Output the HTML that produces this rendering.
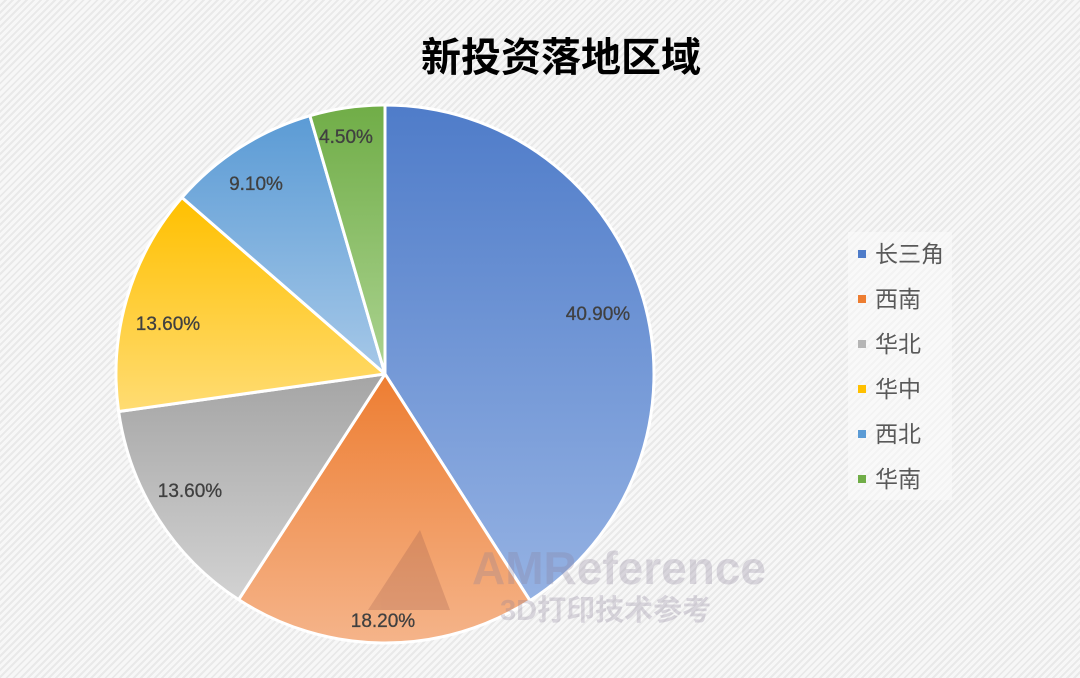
<!DOCTYPE html>
<html><head><meta charset="utf-8"><style>
html,body{margin:0;padding:0}
body{width:1080px;height:678px;overflow:hidden;background:repeating-linear-gradient(135deg,#f7f7f7 0 3px,#e9e9e9 3px 5px);font-family:"Liberation Sans","Noto Sans CJK SC",sans-serif}
</style></head><body>
<svg width="1080" height="678" viewBox="0 0 1080 678" xmlns="http://www.w3.org/2000/svg" style="position:absolute;left:0;top:0">
<defs>
<linearGradient id="g1" x1="0" y1="0" x2="0" y2="1"><stop offset="0" stop-color="#4f7cc9"/><stop offset="1" stop-color="#95b2e3"/></linearGradient>
<linearGradient id="g2" x1="0" y1="0" x2="0" y2="1"><stop offset="0" stop-color="#ed7d31"/><stop offset="1" stop-color="#f5b48a"/></linearGradient>
<linearGradient id="g3" x1="0" y1="0" x2="0" y2="1"><stop offset="0" stop-color="#a5a5a5"/><stop offset="1" stop-color="#d2d2d2"/></linearGradient>
<linearGradient id="g4" x1="0" y1="0" x2="0" y2="1"><stop offset="0" stop-color="#ffc000"/><stop offset="1" stop-color="#ffdc73"/></linearGradient>
<linearGradient id="g5" x1="0" y1="0" x2="0" y2="1"><stop offset="0" stop-color="#5b9bd5"/><stop offset="1" stop-color="#a6c8e8"/></linearGradient>
<linearGradient id="g6" x1="0" y1="0" x2="0" y2="1"><stop offset="0" stop-color="#70ad47"/><stop offset="1" stop-color="#acd391"/></linearGradient>
</defs>
<g id="pie" stroke="#fff" stroke-width="3" stroke-linejoin="round"></g>
<text x="561" y="71" text-anchor="middle" font-size="40" font-weight="bold" fill="#000" font-family="Liberation Sans,Noto Sans CJK SC,sans-serif">新投资落地区域</text>
<g font-size="19" fill="#404040" text-anchor="middle" font-family="Liberation Sans,sans-serif" stroke="#404040" stroke-width="0.3">
<text x="598" y="320">40.90%</text>
<text x="383" y="627">18.20%</text>
<text x="190" y="497">13.60%</text>
<text x="168" y="330">13.60%</text>
<text x="256" y="190">9.10%</text>
<text x="346" y="143">4.50%</text>
</g>
<g opacity="0.28" font-family="Liberation Sans,Noto Sans CJK SC,sans-serif" font-weight="bold">
<polygon points="368,610 420,530 450,610" fill="#a06050"/>
<text x="472" y="584" font-size="46" fill="#8a7f9a">AMReference</text>
<text x="500" y="620" font-size="29" fill="#8a7f9a">3D打印技术参考</text>
</g>
<rect x="848" y="232" width="104" height="268" fill="#fafafa" opacity="0.6"/>
<g font-size="23" fill="#595959" font-family="Liberation Sans,Noto Sans CJK SC,sans-serif">
<rect x="858" y="250" width="8" height="8" fill="#4f7cc9"/><text x="875" y="262">长三角</text>
<rect x="858" y="295" width="8" height="8" fill="#ed7d31"/><text x="875" y="307">西南</text>
<rect x="858" y="340" width="8" height="8" fill="#b5b5b5"/><text x="875" y="352">华北</text>
<rect x="858" y="385" width="8" height="8" fill="#ffc000"/><text x="875" y="397">华中</text>
<rect x="858" y="430" width="8" height="8" fill="#5b9bd5"/><text x="875" y="442">西北</text>
<rect x="858" y="475" width="8" height="8" fill="#70ad47"/><text x="875" y="487">华南</text>
</g>
</svg>
<script>
(function(){
var cx=385,cy=374,r=269,vals=[40.9,18.2,13.6,13.6,9.1,4.5],t=99.9,a=0,g=document.getElementById('pie'),s='';
vals.forEach(function(v,i){
 var a0=a/t*2*Math.PI,a1=(a+v)/t*2*Math.PI;a+=v;
 var x0=cx+r*Math.sin(a0),y0=cy-r*Math.cos(a0),x1=cx+r*Math.sin(a1),y1=cy-r*Math.cos(a1);
 s+='<path fill="url(#g'+(i+1)+')" d="M'+cx+','+cy+' L'+x0.toFixed(2)+','+y0.toFixed(2)+' A'+r+','+r+' 0 '+((a1-a0)>Math.PI?1:0)+' 1 '+x1.toFixed(2)+','+y1.toFixed(2)+' Z"/>';
});
g.innerHTML=s;
})();
</script>
</body></html>
